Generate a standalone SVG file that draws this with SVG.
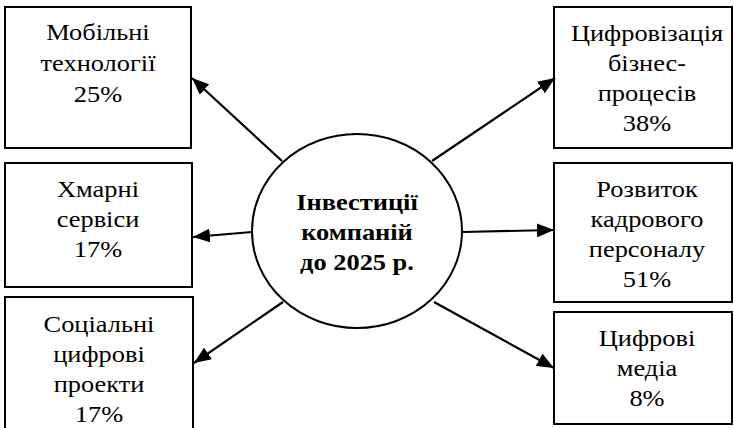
<svg xmlns="http://www.w3.org/2000/svg" width="734" height="428" viewBox="0 0 734 428">
<style>
.box{fill:#fff;stroke:#000;stroke-width:2}
.t{font-family:"Liberation Serif","Times New Roman",serif;font-size:24px;text-anchor:middle;fill:#000}
.b{font-weight:bold}
.c{stroke:#000;stroke-width:2.2;fill:none;marker-end:url(#ah)}
</style>
<defs>
<marker id="ah" markerUnits="userSpaceOnUse" markerWidth="18" markerHeight="14" refX="17" refY="7" orient="auto">
<path d="M0,0 L17,7 L0,14 Z" fill="#000"/>
</marker>
</defs>
<rect width="734" height="428" fill="#fff"/>
<g id="n1"><rect class="box" x="5" y="7" width="186" height="141"/>
<text class="t" transform="translate(98 0) scale(1.1 1)"><tspan x="0" y="40">Мобільні</tspan><tspan x="0" y="71">технології</tspan><tspan x="0" y="102">25%</tspan></text></g>
<g id="n2"><rect class="box" x="554" y="7" width="178" height="141"/>
<text class="t" transform="translate(647 0) scale(1.1 1)"><tspan x="0" y="41">Цифровізація</tspan><tspan x="0" y="71">бізнес-</tspan><tspan x="0" y="101">процесів</tspan><tspan x="0" y="131">38%</tspan></text></g>
<g id="n3"><rect class="box" x="5" y="163" width="187" height="124"/>
<text class="t" transform="translate(98 0) scale(1.1 1)"><tspan x="0" y="197">Хмарні</tspan><tspan x="0" y="227">сервіси</tspan><tspan x="0" y="257">17%</tspan></text></g>
<g id="n4"><rect class="box" x="554" y="163" width="178" height="139"/>
<text class="t" transform="translate(647 0) scale(1.1 1)"><tspan x="0" y="197">Розвиток</tspan><tspan x="0" y="227">кадрового</tspan><tspan x="0" y="257">персоналу</tspan><tspan x="0" y="287">51%</tspan></text></g>
<g id="n5"><rect class="box" x="5" y="297" width="188" height="140"/>
<text class="t" transform="translate(99 0) scale(1.1 1)"><tspan x="0" y="332">Соціальні</tspan><tspan x="0" y="362">цифрові</tspan><tspan x="0" y="392">проекти</tspan><tspan x="0" y="422">17%</tspan></text></g>
<g id="n6"><rect class="box" x="554" y="312" width="178" height="112"/>
<text class="t" transform="translate(647 0) scale(1.1 1)"><tspan x="0" y="346">Цифрові</tspan><tspan x="0" y="376">медіа</tspan><tspan x="0" y="406">8%</tspan></text></g>
<g id="center"><ellipse cx="357" cy="231" rx="105" ry="97" fill="#fff" stroke="#000" stroke-width="2"/>
<text class="t b" transform="translate(357 0) scale(1.1 1)"><tspan x="0" y="210">Інвестиції</tspan><tspan x="0" y="240">компаній</tspan><tspan x="0" y="270">до 2025 р.</tspan></text></g>
<g id="connectors">
<line class="c" x1="282" y1="161" x2="192" y2="78"/>
<line class="c" x1="432" y1="161" x2="555" y2="78"/>
<line class="c" x1="252" y1="232" x2="193" y2="237"/>
<line class="c" x1="463" y1="232" x2="554" y2="230"/>
<line class="c" x1="283" y1="302" x2="194" y2="363"/>
<line class="c" x1="434" y1="302" x2="554" y2="368"/>
</g>
</svg>
